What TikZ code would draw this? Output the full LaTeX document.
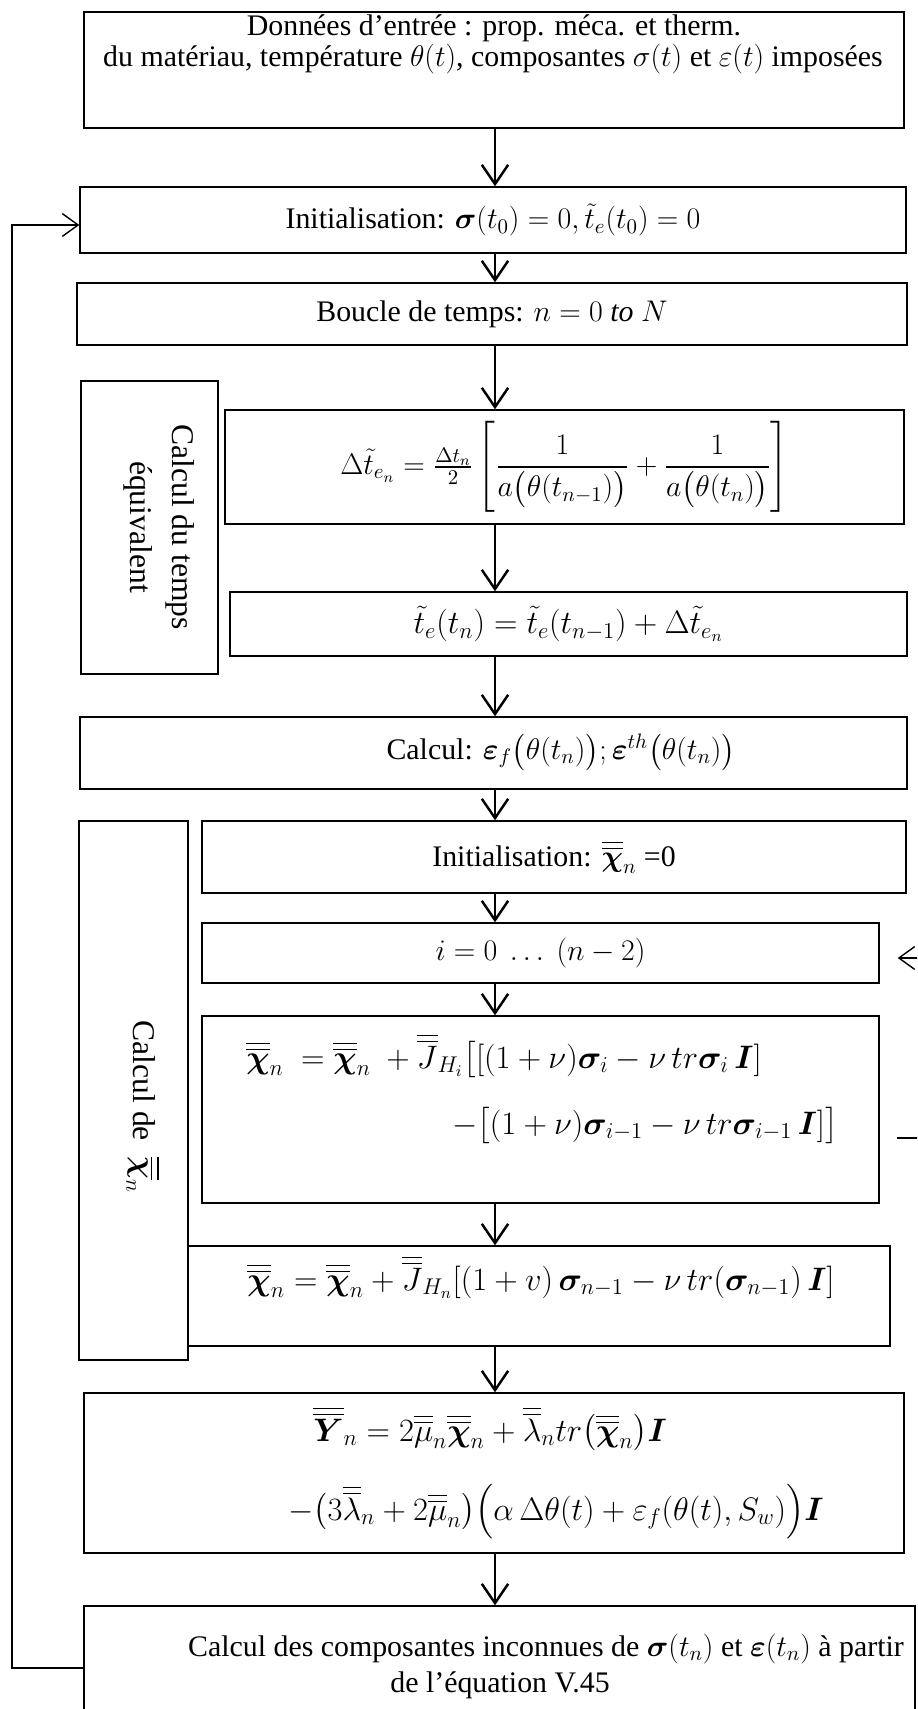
\documentclass[tikz,border=0pt]{standalone}
\usepackage{fix-cm}
\usepackage{amsmath,bm}
\usepackage{fontspec}
\setmainfont{Liberation Serif}
\usetikzlibrary{arrows.meta,fit,positioning}

\newcommand{\dbar}[1]{\overline{\overline{#1}}}

\begin{document}
\begin{tikzpicture}[x=0.02cm, y=-0.02cm,
    box/.style={draw, line width=0.8pt, inner sep=0pt},
    txt/.style={font=\fontsize{17}{20}\selectfont, inner sep=0pt},
    eq/.style={font=\fontsize{18.5}{22}\selectfont, inner sep=0pt},
    side/.style={font=\fontsize{18}{24}\selectfont, rotate=-90, align=center, inner sep=0pt},
    flow/.style={-{Straight Barb[length=11pt,width=15pt]}, line width=1.4pt},
    back/.style={-{Straight Barb[length=9pt,width=13pt]}, line width=0.8pt}]
    \clip (0,0) rectangle (917,1709);
    \useasboundingbox (0,0) rectangle (917,1709);

    % donnees
    \node[box, fit={(84,12) (904,128)}] (data) {};
    \node[txt, anchor=base] (data1) at (494,36) {Données d’entrée : prop. méca. et therm.};
    \node[txt, anchor=base] (data2) at (493,67) {du matériau, température $\theta(t)$, composantes $\sigma(t)$ et $\varepsilon(t)$ imposées};

    \node[box, fit={(80,187) (906,253)}] (init) {};
    \node[txt] (inittxt) at (init.center) {Initialisation: $\bm\sigma(t_0) = 0, \tilde t_e(t_0) = 0$};
    \node[box, fit={(77,283) (907,345)}] (loop) {};
    \node[txt] (looptxt) at (loop.center) {Boucle de temps: $n = 0\ \mathit{to}\ N$};

    % temps equivalent
    \node[box, fit={(81,381) (218,674)}] (eqvbox) {};
    \node[side] (eqvtxt) at (159,527) {Calcul du temps\\équivalent};
    \node[box, fit={(225,410) (904,524)}] (dt) {};
    \node[txt] (dttxt) at (dt.center) {$\Delta\tilde t_{e_n} = \tfrac{\Delta t_n}{2}\left[\dfrac{1}{a\bigl(\theta(t_{n-1})\bigr)} + \dfrac{1}{a\bigl(\theta(t_n)\bigr)}\right]$};
    \node[box, fit={(230,592) (907,656)}] (te) {};
    \node[eq] (tetxt) at (te.center) {$\tilde t_e(t_n) = \tilde t_e(t_{n-1}) + \Delta\tilde t_{e_n}$};

    \node[box, fit={(80,717) (907,789)}] (eps) {};
    \node[txt] (epstxt) at (561,752) {Calcul: $\bm\varepsilon_f\bigl(\theta(t_n)\bigr); \bm\varepsilon^{th}\bigl(\theta(t_n)\bigr)$};

    % chi
    \node[box, fit={(79,821) (188,1360)}] (chibox) {};
    \node[side] (chitxt) at (143,1107) {Calcul de \ $\dbar{\bm\chi}_n$};
    \node[box, fit={(202,821) (906,893)}] (chizero) {};
    \node[txt] (chizerotxt) at (chizero.center) {Initialisation: $\dbar{\bm\chi}_n$ =0};
    \node[box, fit={(202,923) (879,983)}] (iloop) {};
    \node[txt] (ilooptxt) at (iloop.center) {$i = 0\ \ldots\ (n-2)$};
    \node[box, fit={(202,1016) (879,1203)}] (upd) {};
    \node[eq, anchor=base west] (upd1) at (246,1068) {$\dbar{\bm\chi}_n\ = \dbar{\bm\chi}_n\ + \dbar{J}_{H_i}\bigl[[(1+\nu)\bm\sigma_i - \nu\,tr\bm\sigma_i\,\bm I]$};
    \node[eq, anchor=base east] (upd2) at (838,1134) {$-\bigl[(1+\nu)\bm\sigma_{i-1} - \nu\,tr\bm\sigma_{i-1}\,\bm I]\bigr]$};
    \node[box, fit={(188,1246) (890,1346)}] (last) {};
    \node[eq, anchor=base] (last1) at (541,1290) {$\dbar{\bm\chi}_n = \dbar{\bm\chi}_n + \dbar{J}_{H_n}[(1+v)\,\bm\sigma_{n-1} - \nu\,tr(\bm\sigma_{n-1})\,\bm I]$};

    % Y
    \node[box, fit={(84,1393) (904,1553)}] (yield) {};
    \node[eq, anchor=base] (yield1) at (490,1441) {$\dbar{\bm Y}_n = 2\dbar{\mu}_n\dbar{\bm\chi}_n + \dbar{\lambda}_n tr\bigl(\dbar{\bm\chi}_n\bigr)\bm I$};
    \node[eq, anchor=base] (yield2) at (556,1520) {$-\bigl(3\dbar{\lambda}_n + 2\dbar{\mu}_n\bigr)\Bigl(\alpha\,\Delta\theta(t) + \varepsilon_f(\theta(t),S_w)\Bigr)\bm I$};

    \node[box, fit={(84,1606) (915,1760)}] (sol) {};
    \node[txt, anchor=base] (sol1) at (546,1656) {Calcul des composantes inconnues de $\bm\sigma(t_n)$ et $\bm\varepsilon(t_n)$ à partir};
    \node[txt, anchor=base] (sol2) at (500,1692) {de l’équation V.45};

    % fleches
    \coordinate (spine) at (495,0);
    \foreach \a/\b in {data/init, init/loop, loop/dt, dt/te, te/eps, eps/chizero,
        chizero/iloop, iloop/upd, upd/last, last/yield, yield/sol}
      \draw[flow] (\a.south -| spine) -- (\b.north -| spine);

    % boucles
    \coordinate (backb) at (12,1668);
    \coordinate (backt) at (12,225);
    \draw[back] (sol.west |- backb) -- (backb) -- (backt) -- (init.west |- backt);
    \coordinate (nextb) at (960,1138);
    \coordinate (nextt) at (960,958);
    \draw[back, shorten <=0.34cm, shorten >=0.36cm] (upd.east |- nextb) -- (nextb) -- (nextt) -- (iloop.east |- nextt);
\end{tikzpicture}
\end{document}
